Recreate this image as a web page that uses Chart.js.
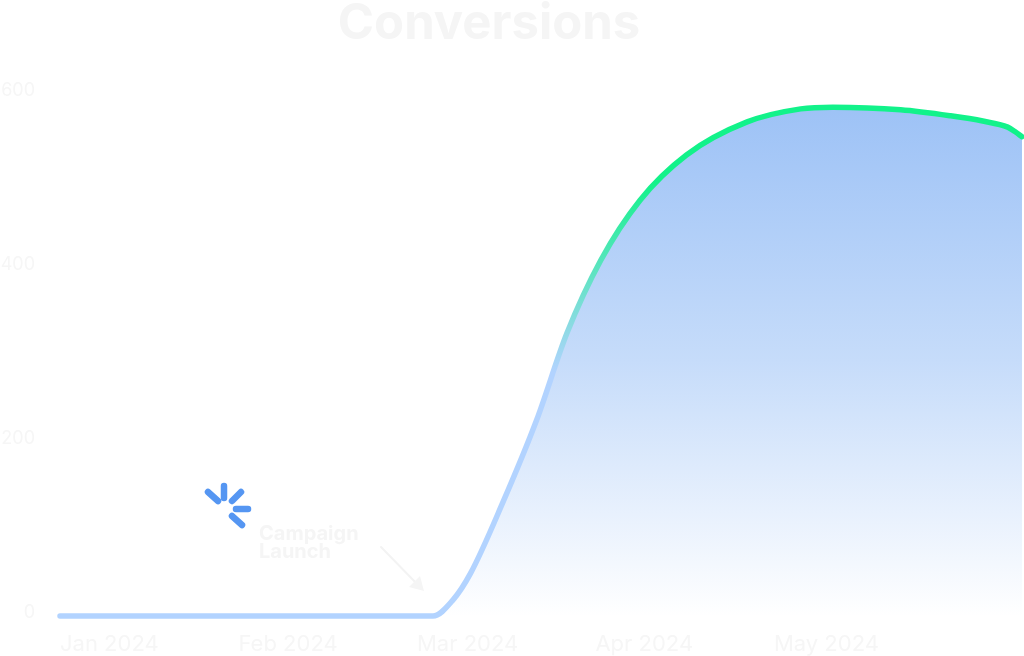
<!DOCTYPE html>
<html>
<head>
<meta charset="utf-8">
<title>Conversions</title>
<script src="https://cdn.jsdelivr.net/npm/chart.js@4"></script>
<style>
  html, body { margin: 0; padding: 0; background: #fff; overflow: hidden; }
  canvas { display: block; }
</style>
</head>
<body>
<canvas id="conversionsChart" width="1024" height="656"></canvas>
<script>
const monthLabels = ["Jan 2024", "Feb 2024", "Mar 2024", "Apr 2024", "May 2024"];
const yTickValues = [0, 200, 400, 600];

// x is in months since Jan 2024, months are evenly spaced on this chart
const monthPos = [0, 1, 2, 2.09, 2.2, 2.3, 2.48, 2.67, 2.84, 3.03, 3.25, 3.51, 3.85, 4.15, 4.33, 4.71, 4.99, 5.17, 5.31, 5.35, 5.39];
const conversions = [0, 0, 0, 0, 18, 49, 130, 225, 325, 409, 478, 530, 568, 583, 585, 582, 575, 569, 562, 557, 551];

const tickColor = "#f6f6f6";

function lineGradient(context) {
  const { chart } = context;
  if (!chart.chartArea) return "#b2d3ff";
  const y = chart.scales.y;
  const g = chart.ctx.createLinearGradient(0, y.getPixelForValue(280), 0, y.getPixelForValue(500));
  g.addColorStop(0, "#b2d3ff");
  g.addColorStop(1, "#12f28a");
  return g;
}

function fillGradient(context) {
  const { chart } = context;
  if (!chart.chartArea) return "#ffffff";
  const y = chart.scales.y;
  const g = chart.ctx.createLinearGradient(0, y.getPixelForValue(586), 0, y.getPixelForValue(0));
  g.addColorStop(0, "#9dc2f6");
  g.addColorStop(0.5, "#c6dcfa");
  g.addColorStop(1, "#ffffff");
  return g;
}

// spark, note and arrow next to the launch
const campaignNote = {
  id: "campaignNote",
  afterDatasetsDraw(chart) {
    const c = chart.ctx;
    c.save();
    c.lineCap = "round";

    c.strokeStyle = "#5596f2";
    c.lineWidth = 6.5;
    [[208, 492, 218, 501], [224, 486, 224, 498], [232, 501, 241, 492], [236, 509, 248, 509], [232, 516, 242, 525]].forEach(s => {
      c.beginPath();
      c.moveTo(s[0], s[1]);
      c.lineTo(s[2], s[3]);
      c.stroke();
    });

    c.fillStyle = "#f5f5f5";
    c.font = "700 20px Inter";
    c.textBaseline = "middle";
    c.fillText("Campaign", 259, 534);
    c.fillText("Launch", 259, 552);

    c.strokeStyle = "#f3f3f3";
    c.lineWidth = 2;
    c.beginPath();
    c.moveTo(381, 547);
    c.lineTo(420, 587);
    c.stroke();
    c.beginPath();
    c.moveTo(424, 591);
    c.lineTo(409, 587);
    c.lineTo(420, 576);
    c.closePath();
    c.fill();
    c.restore();
  }
};

// the title sits left of the page centre
const shiftTitle = {
  id: "shiftTitle",
  afterLayout(chart) {
    chart.titleBlock.left -= 22;
    chart.titleBlock.right -= 22;
  }
};

new Chart(document.getElementById("conversionsChart"), {
  type: "line",
  data: {
    datasets: [{
      label: "Conversions",
      data: monthPos.map((m, i) => ({ x: m, y: conversions[i] })),
      yAxisID: "y",
      borderColor: lineGradient,
      backgroundColor: fillGradient,
      borderWidth: 5.5,
      borderCapStyle: "round",
      cubicInterpolationMode: "monotone",
      fill: "origin",
      pointRadius: 0,
      clip: false
    }]
  },
  options: {
    responsive: false,
    animation: false,
    layout: { padding: { right: 2 } },
    plugins: {
      legend: { display: false },
      tooltip: { enabled: false },
      title: {
        display: true,
        text: "Conversions",
        color: "#f5f5f5",
        font: { family: "Inter", size: 49, weight: "700", lineHeight: 1 },
        padding: { top: 0, bottom: 19 }
      }
    },
    scales: {
      x: {
        type: "linear",
        min: 0,
        max: 5.39,
        grid: { display: false },
        border: { display: false },
        afterFit(scale) { scale.height = 40; },
        ticks: {
          stepSize: 1,
          includeBounds: false,
          autoSkip: false,
          maxRotation: 0,
          align: "start",
          padding: 7,
          color: tickColor,
          font: { family: "Inter", size: 22 },
          callback: v => monthLabels[v]
        }
      },
      y: {
        display: false,
        min: 0,
        max: 630
      },
      // tick labels sit a few pixels above the values they name
      yLabels: {
        position: "left",
        min: -4,
        max: 626,
        grid: { display: false },
        border: { display: false },
        afterFit(scale) { scale.width = 60; },
        afterBuildTicks(scale) { scale.ticks = yTickValues.map(v => ({ value: v })); },
        ticks: {
          padding: 17,
          color: tickColor,
          font: { family: "Inter", size: 18 }
        }
      }
    }
  },
  plugins: [campaignNote, shiftTitle]
});
</script>
</body>
</html>
